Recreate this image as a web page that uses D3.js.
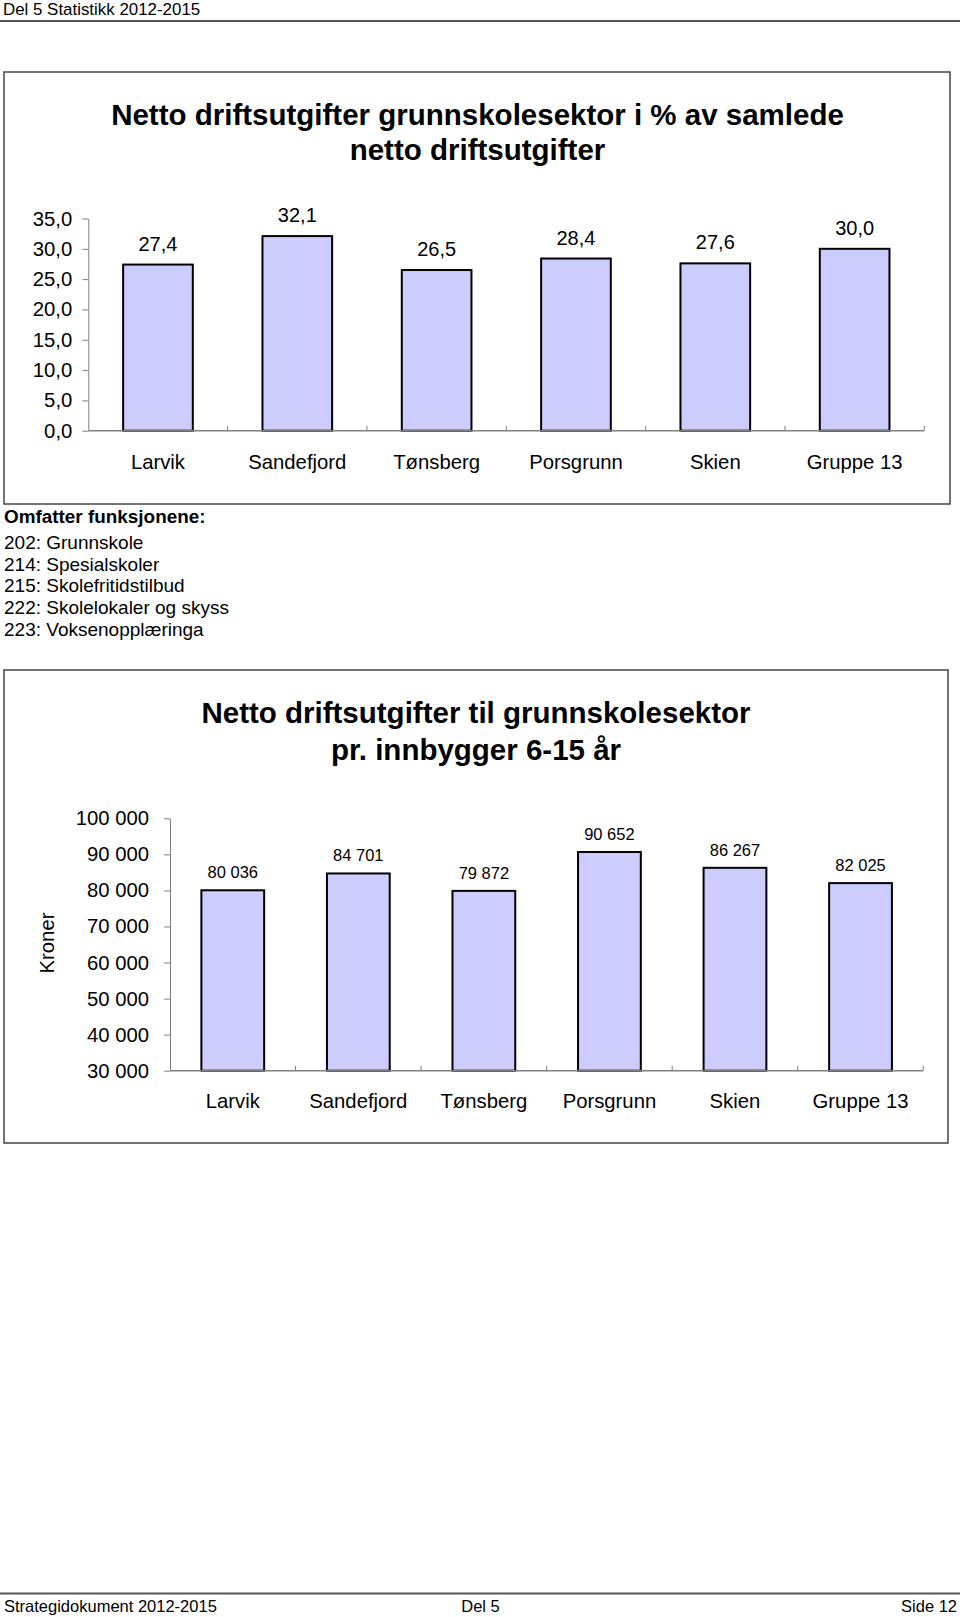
<!DOCTYPE html>
<html>
<head>
<meta charset="utf-8">
<script src="https://cdn.jsdelivr.net/npm/d3@7"></script>
<style>
  html, body { margin: 0; padding: 0; background: #fff; }
  svg { display: block; font-family: "Liberation Sans", Arial, sans-serif; }
</style>
</head>
<body>
<svg id="page" width="960" height="1617"></svg>
<script>
// ---------- data ----------
const categories = ["Larvik", "Sandefjord", "Tønsberg", "Porsgrunn", "Skien", "Gruppe 13"];
const sharePct = [27.4, 32.1, 26.5, 28.4, 27.6, 30.0];
const perCapita = [80036, 84701, 79872, 90652, 86267, 82025];
const shareTicks = [0, 5, 10, 15, 20, 25, 30, 35];
const perCapitaTicks = [30000, 40000, 50000, 60000, 70000, 80000, 90000, 100000];
const title1 = ["Netto driftsutgifter grunnskolesektor i % av samlede", "netto driftsutgifter"];
const title2 = ["Netto driftsutgifter til grunnskolesektor", "pr. innbygger 6-15 år"];
const yLabel2 = "Kroner";
const notesHeading = "Omfatter funksjonene:";
const notes = ["202: Grunnskole", "214: Spesialskoler", "215: Skolefritidstilbud", "222: Skolelokaler og skyss", "223: Voksenopplæringa"];
const headerText = "Del 5 Statistikk 2012-2015";
const footerTexts = ["Strategidokument 2012-2015", "Del 5", "Side 12"];

// ---------- setup ----------
const no = d3.formatLocale({decimal: ",", thousands: " ", grouping: [3], currency: ["", " kr"]});
const fmt1 = no.format(".1f");
const fmtInt = no.format(",d");

const svg = d3.select("#page");
const BAR_FILL = "#ccccff";
const AXIS = "#808080";
const BORDER = "#444";

// header
svg.append("text").attr("x", 3).attr("y", 15).attr("font-size", 16.9).attr("fill", "#000").text(headerText);
svg.append("line").attr("x1", 0).attr("x2", 960).attr("y1", 21).attr("y2", 21).attr("stroke", "#555").attr("stroke-width", 2);

// footer
svg.append("line").attr("x1", 0).attr("x2", 960).attr("y1", 1593.5).attr("y2", 1593.5).attr("stroke", "#555").attr("stroke-width", 2);
svg.append("text").attr("x", 4).attr("y", 1611.5).attr("font-size", 16.5).text(footerTexts[0]);
svg.append("text").attr("x", 480.5).attr("y", 1611.5).attr("font-size", 16.5).attr("text-anchor", "middle").text(footerTexts[1]);
svg.append("text").attr("x", 957).attr("y", 1611.5).attr("font-size", 16.5).attr("text-anchor", "end").text(footerTexts[2]);

function barChart(opts) {
  const g = svg.append("g");
  // frame
  g.append("rect").attr("x", opts.box[0]).attr("y", opts.box[1]).attr("width", opts.box[2]).attr("height", opts.box[3])
    .attr("fill", "#fff").attr("stroke", BORDER).attr("stroke-width", 1.5);
  // title
  opts.title.forEach((t, i) => {
    g.append("text").attr("x", opts.titleX).attr("y", opts.titleY[i]).attr("text-anchor", "middle")
      .attr("font-size", 29.5).attr("font-weight", "bold").attr("fill", "#000").text(t);
  });
  const x = d3.scaleBand().domain(categories).range([opts.x0, opts.x1]).paddingInner(0.5).paddingOuter(0.25);
  const y = d3.scaleLinear().domain(opts.yDomain).range([opts.yBottom, opts.yTop]);

  // y axis
  const yAxis = d3.axisLeft(y).tickValues(opts.yTicks).tickFormat(opts.tickFmt).tickSize(6).tickSizeOuter(0).tickPadding(opts.tickPad);
  const ya = g.append("g").attr("transform", `translate(${opts.x0},0)`).call(yAxis);
  ya.select(".domain").attr("stroke", AXIS);
  ya.selectAll(".tick line").attr("stroke", AXIS);
  ya.selectAll(".tick text").attr("font-size", 20.3).attr("fill", "#000").attr("font-family", "Liberation Sans, Arial, sans-serif");

  // bars
  g.selectAll("rect.bar").data(opts.values).enter().append("rect").attr("class", "bar")
    .attr("x", (d, i) => x(categories[i]))
    .attr("width", x.bandwidth())
    .attr("y", d => y(d))
    .attr("height", d => y(opts.yDomain[0]) - y(d))
    .attr("fill", BAR_FILL).attr("stroke", "#000").attr("stroke-width", 2);

  // x axis line & boundary ticks
  g.append("line").attr("x1", opts.x0).attr("x2", opts.x1).attr("y1", y(opts.yDomain[0])).attr("y2", y(opts.yDomain[0]))
    .attr("stroke", AXIS).attr("stroke-width", 1.5);
  const bounds = d3.range(categories.length + 1).map(i => opts.x0 + i * x.step());
  g.selectAll("line.xt").data(bounds.slice(1)).enter().append("line").attr("class", "xt")
    .attr("x1", d => d).attr("x2", d => d)
    .attr("y1", y(opts.yDomain[0])).attr("y2", y(opts.yDomain[0]) - 5)
    .attr("stroke", AXIS).attr("stroke-width", 1);

  // category labels
  g.selectAll("text.cat").data(categories).enter().append("text").attr("class", "cat")
    .attr("x", d => x(d) + x.bandwidth() / 2).attr("y", opts.catY)
    .attr("text-anchor", "middle").attr("font-size", 20.3).attr("fill", "#000").text(d => d);

  // value labels
  g.selectAll("text.val").data(opts.values).enter().append("text").attr("class", "val")
    .attr("x", (d, i) => x(categories[i]) + x.bandwidth() / 2)
    .attr("y", d => y(d) - opts.valOffset)
    .attr("text-anchor", "middle").attr("font-size", opts.valSize).attr("fill", "#000")
    .text(d => opts.valFmt(d));

  if (opts.yLabel) {
    g.append("text").attr("transform", `translate(${opts.yLabelX},${opts.yLabelY}) rotate(-90)`)
      .attr("text-anchor", "middle").attr("dy", "0.35em").attr("font-size", 20.3).attr("fill", "#000").text(opts.yLabel);
  }
  return g;
}

// chart 1
barChart({
  box: [4, 72, 946, 432],
  title: title1, titleX: 477.5, titleY: [125, 160],
  x0: 88.3, x1: 924.3, yBottom: 430.7, yTop: 218.5, yDomain: [0, 35], yTicks: shareTicks,
  tickFmt: fmt1, tickPad: 10, values: sharePct, valFmt: fmt1, valOffset: 14, valSize: 20, catY: 469
});

// notes
svg.append("text").attr("x", 4).attr("y", 523.3).attr("font-size", 18.9).attr("font-weight", "bold").text(notesHeading);
svg.selectAll("text.note").data(notes).enter().append("text").attr("class", "note")
  .attr("x", 4).attr("y", (d, i) => 549 + i * 21.67).attr("font-size", 19).attr("fill", "#000").text(d => d);

// chart 2
barChart({
  box: [4, 670, 944, 473],
  title: title2, titleX: 476, titleY: [723, 760],
  x0: 170, x1: 923.3, yBottom: 1070.7, yTop: 818.3, yDomain: [30000, 100000], yTicks: perCapitaTicks,
  tickFmt: fmtInt, tickPad: 15, values: perCapita, valFmt: fmtInt, valOffset: 12, valSize: 16.5, catY: 1108.3,
  yLabel: yLabel2, yLabelX: 46.7, yLabelY: 943
});
</script>
</body>
</html>
